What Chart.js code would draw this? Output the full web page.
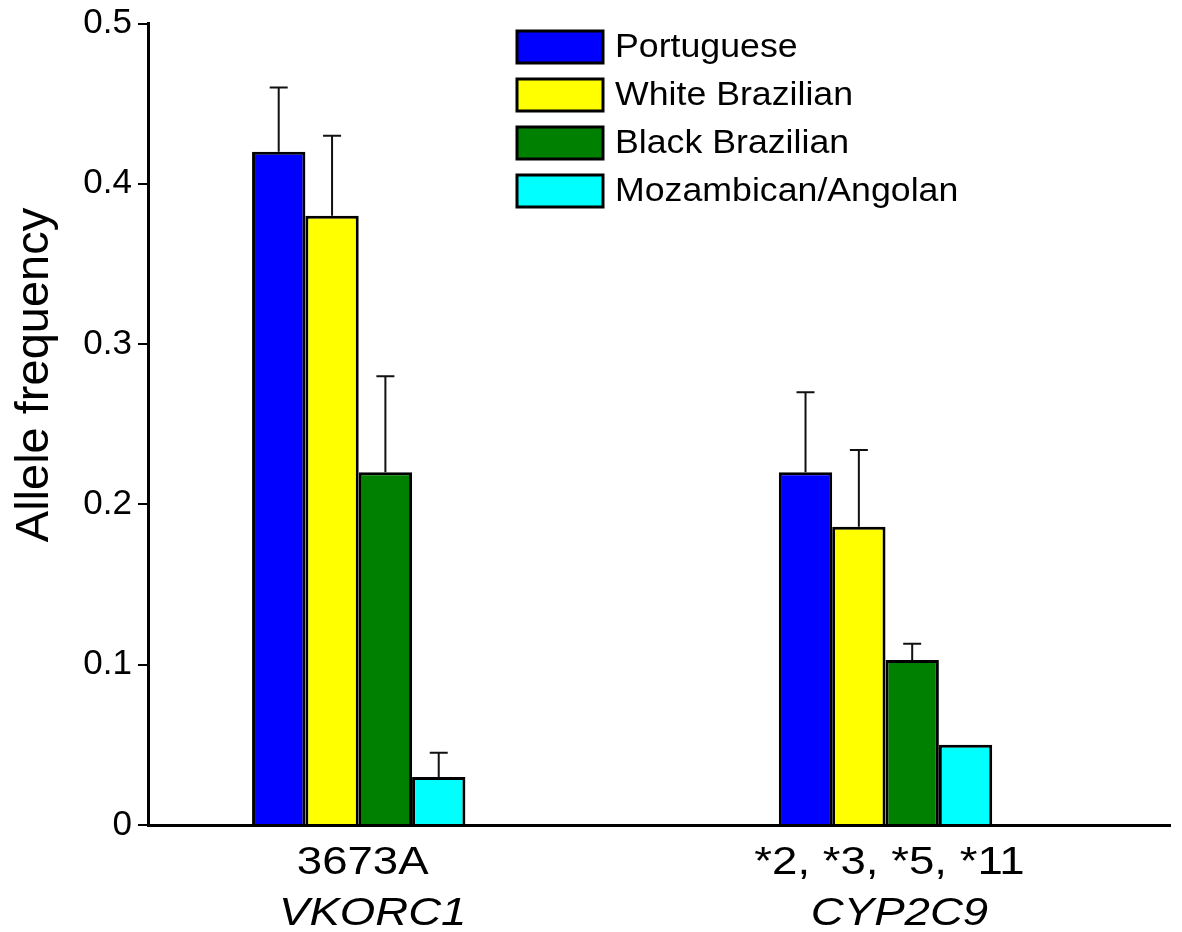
<!DOCTYPE html>
<html>
<head>
<meta charset="utf-8">
<script src="https://cdn.jsdelivr.net/npm/chart.js@4"></script>
<style>
body { margin: 0; background: #fff; }
canvas { display: block; }
</style>
</head>
<body>
<canvas id="barCanvas" width="1182" height="932"></canvas>
<script>
// data
var categories = ["3673A", "*2, *3, *5, *11"];
var genes = ["VKORC1", "CYP2C9"];
var groups = ["Portuguese", "White Brazilian", "Black Brazilian", "Mozambican/Angolan"];
var portuguese = [0.42, 0.22];
var whiteBrazilian = [0.38, 0.186];
var blackBrazilian = [0.22, 0.103];
var mozAngolan = [0.03, 0.05];
var portugueseErr = [0.04, 0.05];
var whiteBrazilianErr = [0.05, 0.048];
var blackBrazilianErr = [0.06, 0.01];
var mozAngolanErr = [0.015, 0];
var yTicks = [0, 0.1, 0.2, 0.3, 0.4, 0.5];

var colors = ['#0000ff', '#ffff00', '#008000', '#00ffff'];
var allValues = [portuguese, whiteBrazilian, blackBrazilian, mozAngolan];
var allErrors = [portugueseErr, whiteBrazilianErr, blackBrazilianErr, mozAngolanErr];

function points(values) {
    return values.map(function (v, i) { return { x: i + 1, y: v }; });
}

var datasets = groups.map(function (name, i) {
    return {
        label: name,
        data: points(allValues[i]),
        errors: allErrors[i],
        backgroundColor: colors[i],
        borderColor: '#000',
        borderWidth: 3,
        borderSkipped: 'start',
        categoryPercentage: 0.405,
        barPercentage: 1.0
    };
});

var errorBars = {
    id: 'errorBars',
    afterDatasetsDraw: function (chart) {
        var ctx = chart.ctx;
        var yScale = chart.scales.y;
        ctx.save();
        ctx.strokeStyle = '#111';
        ctx.lineWidth = 2;
        chart.data.datasets.forEach(function (ds, i) {
            var meta = chart.getDatasetMeta(i);
            meta.data.forEach(function (bar, j) {
                var err = ds.errors[j];
                if (!err) return;
                var top = yScale.getPixelForValue(ds.data[j].y + err);
                ctx.beginPath();
                ctx.moveTo(bar.x, bar.y);
                ctx.lineTo(bar.x, top);
                ctx.moveTo(bar.x - 9, top);
                ctx.lineTo(bar.x + 9, top);
                ctx.stroke();
            });
        });
        ctx.restore();
    }
};

var textBits = {
    id: 'textBits',
    afterDraw: function (chart) {
        var ctx = chart.ctx;
        var xScale = chart.scales.x;
        ctx.save();
        ctx.fillStyle = '#000';
        ctx.textAlign = 'center';
        ctx.textBaseline = 'alphabetic';
        // category labels (stretched a bit like the original)
        categories.forEach(function (cat, i) {
            var cx = xScale.getPixelForValue(i + 1);
            ctx.save();
            ctx.translate(cx + 4, 874);
            ctx.scale(1.2, 1);
            ctx.font = '38px "Liberation Sans", Arial, sans-serif';
            ctx.fillText(cat, 0, 0);
            ctx.restore();
            ctx.save();
            ctx.translate(cx + 14, 925);
            ctx.scale(1.2, 1);
            ctx.font = 'italic 38px "Liberation Sans", Arial, sans-serif';
            ctx.fillText(genes[i], 0, 0);
            ctx.restore();
        });
        // y title
        ctx.save();
        ctx.translate(48, 375);
        ctx.rotate(-Math.PI / 2);
        ctx.font = '47px "Liberation Sans", Arial, sans-serif';
        ctx.fillText('Allele frequency', 0, 0);
        ctx.restore();
        // legend
        ctx.textAlign = 'left';
        ctx.textBaseline = 'middle';
        groups.forEach(function (name, i) {
            var top = 31 + i * 48;
            ctx.fillStyle = colors[i];
            ctx.fillRect(517, top, 86, 32);
            ctx.strokeStyle = '#000';
            ctx.lineWidth = 3;
            ctx.strokeRect(517, top, 86, 32);
            ctx.save();
            ctx.translate(615, top + 17);
            ctx.scale(1.05, 1);
            ctx.fillStyle = '#000';
            ctx.font = '34px "Liberation Sans", Arial, sans-serif';
            ctx.fillText(name, 0, 0);
            ctx.restore();
        });
        ctx.restore();
    }
};

var barChart = new Chart(document.getElementById('barCanvas'), {
    type: 'bar',
    data: { datasets: datasets },
    options: {
        responsive: false,
        animation: false,
        layout: { padding: { top: 20, right: 12, left: 0, bottom: 0 } },
        plugins: {
            legend: { display: false },
            tooltip: { enabled: false }
        },
        scales: {
            x: {
                type: 'linear',
                min: 0.6,
                max: 2.54,
                offset: false,
                afterBuildTicks: function (scale) {
                    scale.ticks = categories.map(function (c, i) { return { value: i + 1 }; });
                },
                grid: { offset: false, drawOnChartArea: false, drawTicks: false },
                border: { display: true, color: '#000', width: 3 },
                ticks: { display: false },
                afterFit: function (scale) { scale.height = 107; }
            },
            y: {
                min: 0,
                max: 0.5,
                afterBuildTicks: function (scale) {
                    scale.ticks = yTicks.map(function (v) { return { value: v }; });
                },
                grid: { drawOnChartArea: false, drawTicks: true, tickLength: 10, color: '#000', lineWidth: 2 },
                border: { display: true, color: '#000', width: 3 },
                ticks: {
                    padding: 6,
                    color: '#000',
                    font: { family: '"Liberation Sans", Arial, sans-serif', size: 35, lineHeight: 1 },
                    callback: function (v) { return v === 0 ? '0' : v.toFixed(1); }
                },
                afterFit: function (scale) { scale.width = 148; }
            }
        }
    },
    plugins: [errorBars, textBits]
});
</script>
</body>
</html>
